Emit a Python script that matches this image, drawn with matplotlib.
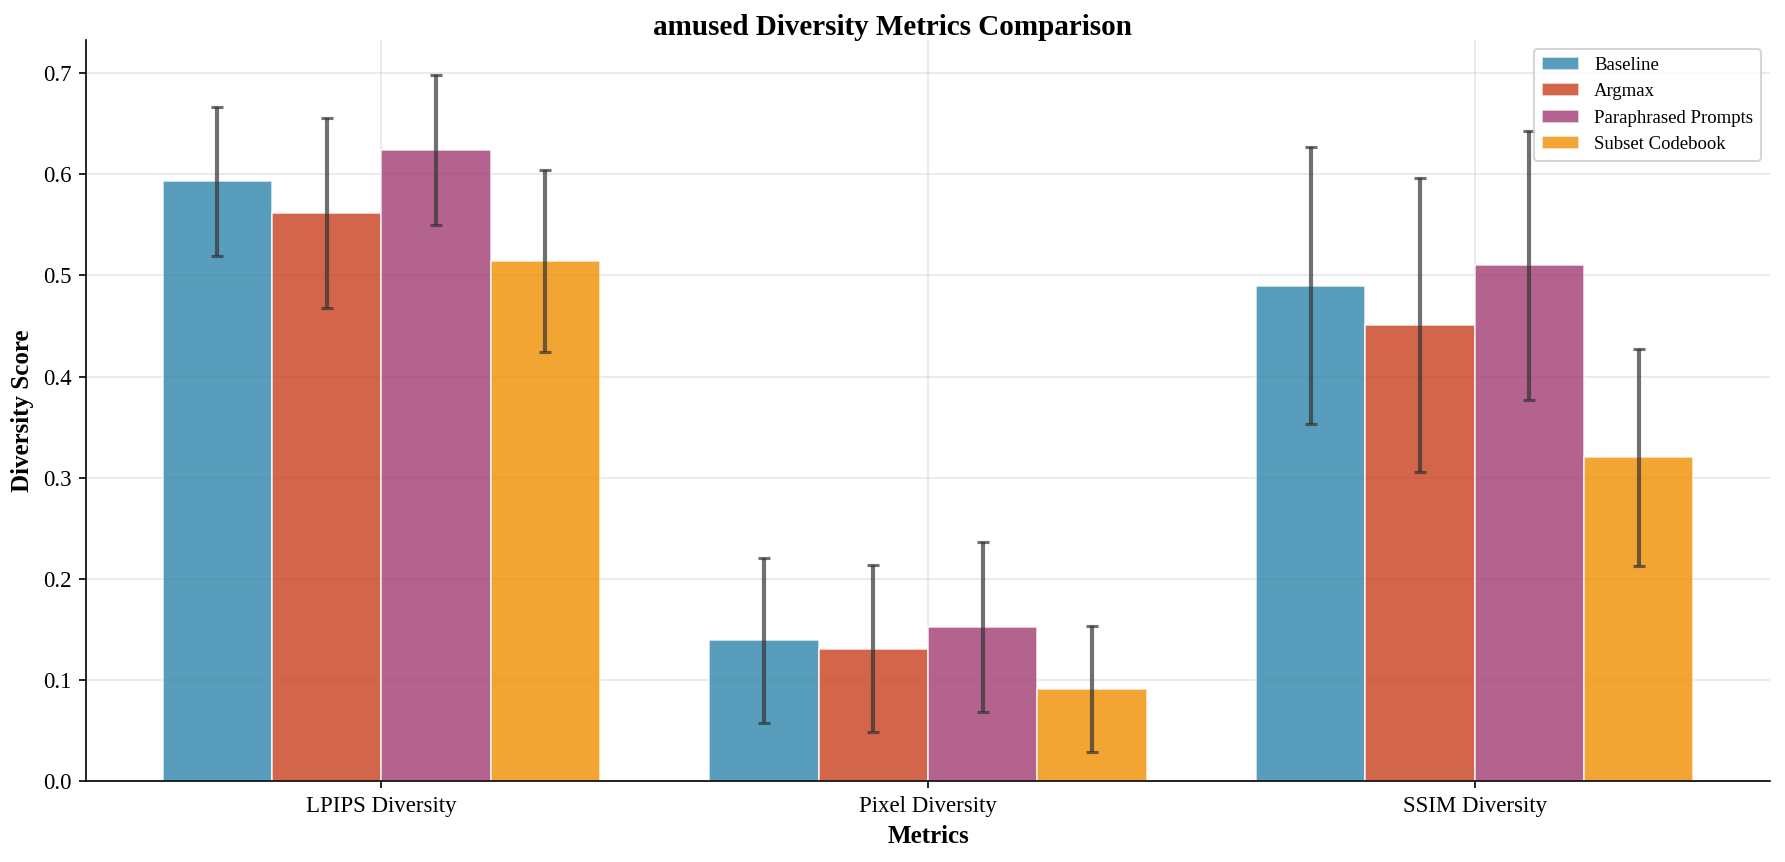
import numpy as np
import matplotlib
matplotlib.use("Agg")
import matplotlib.pyplot as plt

plt.rcParams['font.family'] = ['Liberation Serif', 'DejaVu Serif']

metrics = ['LPIPS Diversity', 'Pixel Diversity', 'SSIM Diversity']
methods = ['Baseline', 'Argmax', 'Paraphrased Prompts', 'Subset Codebook']
colors = ['#2E86AB', '#C73E1D', '#A23B72', '#F18F01']

means = {
    'Baseline': [0.593, 0.139, 0.490],
    'Argmax': [0.562, 0.131, 0.451],
    'Paraphrased Prompts': [0.624, 0.152, 0.510],
    'Subset Codebook': [0.514, 0.091, 0.320],
}
stds = {
    'Baseline': [0.074, 0.082, 0.137],
    'Argmax': [0.094, 0.083, 0.145],
    'Paraphrased Prompts': [0.074, 0.084, 0.133],
    'Subset Codebook': [0.090, 0.062, 0.107],
}

fig = plt.figure(figsize=(11.9, 5.7467), dpi=150)
ax = fig.add_axes([0.0482, 0.094, 0.9434, 0.8596])

x = np.arange(len(metrics))
width = 0.2
for i, m in enumerate(methods):
    ax.bar(x + (i - 1.5) * width, means[m], width, yerr=stds[m], label=m,
           color=colors[i], alpha=0.8, edgecolor='white', linewidth=0.8,
           error_kw=dict(ecolor='#333333', elinewidth=2, capsize=3, capthick=1.5, alpha=0.7))

ax.set_xticks(x)
ax.set_xticklabels(metrics, fontsize=11)
ax.tick_params(axis='y', labelsize=11)
ax.set_xlabel('Metrics', fontsize=12, fontweight='bold')
ax.set_ylabel('Diversity Score', fontsize=12, fontweight='bold')
# title is centred on the figure, not the axes
fig.text(0.5, 1 - 35 / 862, 'amused Diversity Metrics Comparison', fontsize=14,
         fontweight='bold', ha='center', va='baseline')
ax.set_ylim(0, None)
ax.grid(True, alpha=0.3)
ax.set_axisbelow(True)
ax.spines['top'].set_visible(False)
ax.spines['right'].set_visible(False)
ax.legend(loc='upper right', fontsize=9)

fig.savefig('out.png', dpi=150)
